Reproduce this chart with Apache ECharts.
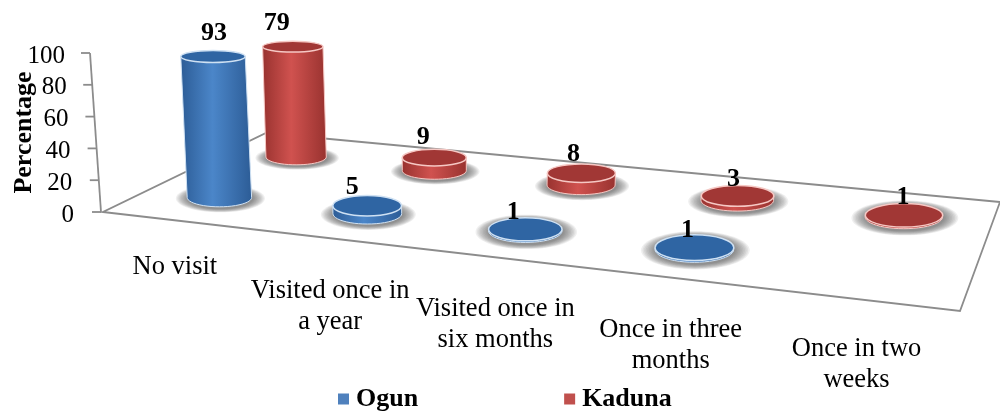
<!DOCTYPE html>
<html>
<head>
    <meta charset="utf-8">
    <title>Visits</title>
    <style>
        html, body { margin: 0; padding: 0; background: #fff; }
    </style>
</head>
<body>
    <div id="main" style="width:1000px;height:412px"></div>
    <script src="https://cdn.jsdelivr.net/npm/echarts@6/dist/echarts.min.js"></script>
    <script type="text/javascript">

        const CATEGORIES = ['No visit', 'Visited once in\na year', 'Visited once in\nsix months', 'Once in three\nmonths', 'Once in two\nweeks'];
        const OGUN = [93, 5, 1, 1, null];
        const KADUNA = [79, 9, 8, 3, 1];
        const Y_TICKS = [0, 20, 40, 60, 80, 100];

        // where the value labels and category labels sit, excel put them by hand
        const OGUN_LABEL_DX = [1, -15, -12, -7, 0];
        const OGUN_LABEL_DY = [-23, -19, -17, -17, 0];
        const KADUNA_LABEL_DX = [-16, -11, -8, -4, -1];
        const KADUNA_LABEL_DY = [-23, -20, -19, -17, -18];
        const CAT_LABEL_DX = [-1, 1, 2, 1, -3];
        const CAT_LABEL_DY = [31, 37, 36, 37, 34];

        const FONT = '"Liberation Serif", "Times New Roman", serif';
        const FLOOR = [[103, 212], [960, 311], [1000, 202], [266, 133]];
        const AXIS_TOP_X = 90;
        const AXIS_BOTTOM_X = 101;

        // unit square to floor quad
        const H = (function () {
            const [p0, p1, p2, p3] = FLOOR;
            const dx1 = p1[0] - p2[0], dx2 = p3[0] - p2[0], sx = p0[0] - p1[0] + p2[0] - p3[0];
            const dy1 = p1[1] - p2[1], dy2 = p3[1] - p2[1], sy = p0[1] - p1[1] + p2[1] - p3[1];
            const den = dx1 * dy2 - dx2 * dy1;
            const g = (sx * dy2 - dx2 * sy) / den;
            const h = (dx1 * sy - sx * dy1) / den;
            return {
                a: p1[0] - p0[0] + g * p1[0], b: p3[0] - p0[0] + h * p3[0], c: p0[0],
                d: p1[1] - p0[1] + g * p1[1], e: p3[1] - p0[1] + h * p3[1], f: p0[1],
                g: g, h: h
            };
        })();

        function project(u, v) {
            const w = H.g * u + H.h * v + 1;
            return {
                x: (H.a * u + H.b * v + H.c) / w,
                y: (H.d * u + H.e * v + H.f) / w,
                w: w
            };
        }

        function ellipseRatio(y) {
            return 0.185 + (y - 57) * 0.00075;
        }

        function makeBarRender(depth, colors, labelDx, labelDy) {
            return function (params, api) {
                const idx = api.value(0);
                const val = api.value(1);
                if (isNaN(val)) {
                    return;
                }
                const u = (idx + 0.5) / CATEGORIES.length;
                const base = project(u, depth);
                const rx = (project(u + 0.045, depth).x - project(u - 0.045, depth).x) / 2;
                const height = 0.98 * (api.coord([idx, 0])[1] - api.coord([idx, val])[1]) / base.w;
                const topX = base.x + (base.x - 446) * 0.0002 * height;
                const topY = base.y - height;
                const ryBase = rx * ellipseRatio(base.y);
                const ryTop = rx * ellipseRatio(topY);

                const body = [];
                for (let i = 0; i <= 24; i++) {
                    const t = Math.PI * i / 24;
                    body.push([base.x + rx * Math.cos(t), base.y + ryBase * Math.sin(t)]);
                }
                body.push([topX - rx, topY], [topX + rx, topY]);

                const children = [];
                // soft shadow on the floor, stacked see through ellipses
                for (let i = 0; i < 10; i++) {
                    const grow = 1.38 - i * 0.04;
                    children.push({
                        type: 'ellipse',
                        shape: { cx: base.x + 1, cy: base.y + 1, rx: rx * grow, ry: ryBase * (grow + 0.1) },
                        style: { fill: 'rgba(80,80,80,0.09)' }
                    });
                }
                children.push(
                    {
                        type: 'polygon',
                        shape: { points: body },
                        style: {
                            fill: new echarts.graphic.LinearGradient(0, 0, 1, 0, [
                                { offset: 0, color: colors.edge },
                                { offset: 0.45, color: colors.mid },
                                { offset: 1, color: colors.edge }
                            ]),
                            stroke: colors.rim,
                            lineWidth: 1
                        }
                    },
                    {
                        type: 'ellipse',
                        shape: { cx: topX, cy: topY, rx: rx, ry: ryTop },
                        style: { fill: colors.top, stroke: colors.rim, lineWidth: 1.5 }
                    },
                    {
                        type: 'text',
                        x: topX + labelDx[idx],
                        y: topY + labelDy[idx],
                        style: {
                            text: String(val),
                            font: 'bold 26px ' + FONT,
                            fill: '#000',
                            align: 'center',
                            verticalAlign: 'middle'
                        }
                    }
                );
                return { type: 'group', children: children };
            };
        }

        function renderFloor(params, api) {
            const lineStyle = { stroke: '#8c8c8c', lineWidth: 1.8, fill: 'none' };
            const children = [{
                type: 'polygon',
                shape: { points: FLOOR },
                style: lineStyle
            }];
            const top = api.coord([0, 100])[1];
            const bottom = api.coord([0, 0])[1];
            children.push({
                type: 'line',
                shape: { x1: AXIS_TOP_X, y1: top, x2: AXIS_BOTTOM_X, y2: bottom },
                style: lineStyle
            });
            for (let tick of Y_TICKS) {
                const y = api.coord([0, tick])[1];
                const x = AXIS_BOTTOM_X + (AXIS_TOP_X - AXIS_BOTTOM_X) * tick / 100;
                children.push({
                    type: 'line',
                    shape: { x1: x - 9, y1: y, x2: x, y2: y },
                    style: lineStyle
                });
            }
            return { type: 'group', children: children };
        }

        function renderCategory(params, api) {
            const idx = api.value(0);
            const p = project((idx + 0.5) / CATEGORIES.length, 0);
            return {
                type: 'text',
                x: p.x + CAT_LABEL_DX[idx],
                y: p.y + CAT_LABEL_DY[idx],
                style: {
                    text: CATEGORIES[idx],
                    font: '26.5px ' + FONT,
                    fill: '#000',
                    align: 'center',
                    verticalAlign: 'top',
                    lineHeight: 31
                }
            };
        }

        const tickRich = {};
        for (let tick of Y_TICKS) {
            tickRich['t' + tick] = {
                fontFamily: FONT,
                fontSize: 25,
                color: '#000',
                padding: [6, 9 * tick / 100, 0, 0]
            };
        }

        const BLUE = { edge: '#2c5c96', mid: '#4b86c9', top: '#2f65a3', rim: '#cfe1f3' };
        const RED = { edge: '#98322f', mid: '#d0524f', top: '#a13735', rim: '#f6c8c4' };

        let myChart = echarts.init(document.getElementById('main'));

        myChart.setOption({
            animation: false,
            backgroundColor: '#fff',
            grid: { left: 75, right: 0, top: 53, height: 159, outerBoundsMode: 'none' },
            legend: {
                data: ['Ogun', 'Kaduna'],
                left: 333,
                top: 381,
                itemWidth: 11,
                itemHeight: 11,
                itemGap: 146,
                icon: 'rect',
                textStyle: { fontFamily: FONT, fontWeight: 'bold', fontSize: 26, color: '#000', padding: [0, 0, 0, 2] }
            },
            xAxis: {
                type: 'category',
                data: CATEGORIES,
                show: false
            },
            yAxis: {
                type: 'value',
                min: 0,
                max: 100,
                interval: 20,
                name: 'Percentage',
                nameLocation: 'middle',
                nameRotate: 90,
                nameGap: 38,
                nameMoveOverlap: false,
                nameTextStyle: { fontFamily: FONT, fontWeight: 'bold', fontSize: 26, color: '#000' },
                axisLine: { show: false },
                axisTick: { show: false },
                splitLine: { show: false },
                axisLabel: {
                    margin: 1,
                    formatter: function (v) {
                        return '{t' + v + '|' + v + '}';
                    },
                    rich: tickRich
                }
            },
            series: [
                {
                    type: 'custom',
                    name: 'floor',
                    silent: true,
                    renderItem: renderFloor,
                    data: [[0, 0]],
                    z: 1
                },
                {
                    type: 'custom',
                    name: 'labels',
                    silent: true,
                    renderItem: renderCategory,
                    data: CATEGORIES.map(function (c, i) { return [i, 0]; }),
                    z: 1
                },
                {
                    type: 'custom',
                    name: 'Kaduna',
                    silent: true,
                    renderItem: makeBarRender(0.75, RED, KADUNA_LABEL_DX, KADUNA_LABEL_DY),
                    itemStyle: { color: '#c0504d' },
                    data: KADUNA.map(function (v, i) { return [i, v]; }),
                    z: 2
                },
                {
                    type: 'custom',
                    name: 'Ogun',
                    silent: true,
                    renderItem: makeBarRender(0.25, BLUE, OGUN_LABEL_DX, OGUN_LABEL_DY),
                    itemStyle: { color: '#4f81bd' },
                    data: OGUN.map(function (v, i) { return [i, v]; }),
                    z: 3
                }
            ]
        });

    </script>
</body>
</html>
